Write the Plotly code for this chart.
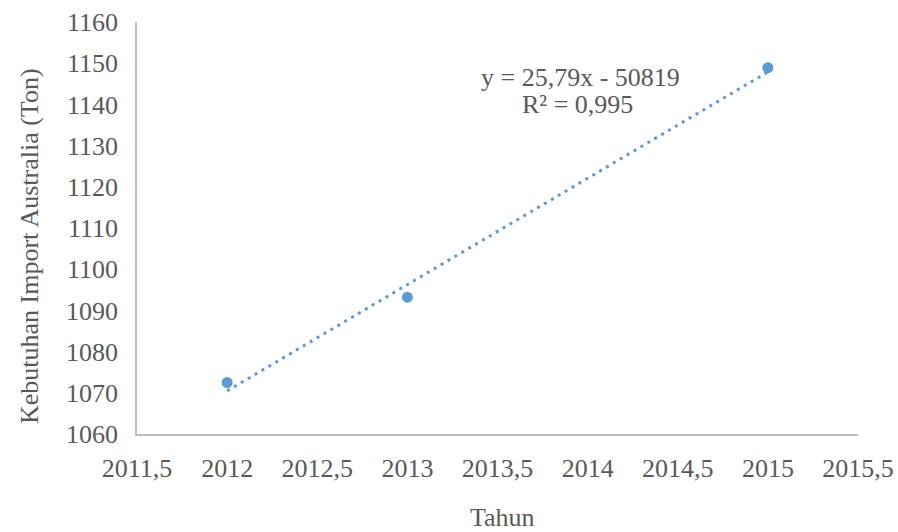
import numpy as np
import plotly.graph_objects as go

years = [2012, 2013, 2015]
imports = [1072.5, 1093.2, 1148.9]

x_tickvals = [2011.5, 2012, 2012.5, 2013, 2013.5, 2014, 2014.5, 2015, 2015.5]
x_ticktext = ["2011,5", "2012", "2012,5", "2013", "2013,5", "2014", "2014,5", "2015", "2015,5"]
y_tickvals = [1060, 1070, 1080, 1090, 1100, 1110, 1120, 1130, 1140, 1150, 1160]
y_ticktext = [str(v) for v in y_tickvals]

eq_text = "y = 25,79x - 50819"
r2_text = "R² = 0,995"
x_title = "Tahun"
y_title = "Kebutuhan Import Australia (Ton)"

slope, intercept = np.polyfit(years, imports, 1)
trend_x = [years[0], years[-1]]
trend_y = [slope * v + intercept for v in trend_x]

blue = "#5B9BD5"
txt = "#595959"
font_family = "Liberation Serif, Times New Roman, serif"

W, H = 898, 532
L, R, T, B = 137, 40, 22, 98
pw, ph = W - L - R, H - T - B


def px_to_paper(x, y):
    return (x - L) / pw, 1 - (y - T) / ph


fig = go.Figure()
fig.add_trace(go.Scatter(x=trend_x, y=trend_y, mode="lines",
                         line=dict(color=blue, width=3, dash="3px,5px"),
                         showlegend=False, hoverinfo="skip"))
fig.add_trace(go.Scatter(x=years, y=imports, mode="markers",
                         marker=dict(color=blue, size=11),
                         showlegend=False))

ann_font = dict(size=26, color=txt, family=font_family)
for text, (px, py) in [(eq_text, (580, 77)), (r2_text, (577, 104))]:
    ax, ay = px_to_paper(px, py)
    fig.add_annotation(xref="paper", yref="paper", x=ax, y=ay, text=text, showarrow=False,
                       font=ann_font, xanchor="center", yanchor="middle")

ax, ay = px_to_paper(502, 517)
fig.add_annotation(xref="paper", yref="paper", x=ax, y=ay, text=x_title, showarrow=False,
                   font=ann_font, xanchor="center", yanchor="middle")
ax, ay = px_to_paper(29, 246)
fig.add_annotation(xref="paper", yref="paper", x=ax, y=ay, text=y_title, showarrow=False,
                   font=ann_font, xanchor="center", yanchor="middle", textangle=-90)

fig.update_layout(
    width=W, height=H,
    margin=dict(l=L, r=R, t=T, b=B, autoexpand=False),
    paper_bgcolor="white", plot_bgcolor="white",
    font=dict(family=font_family, color=txt, size=26),
    xaxis=dict(range=[2011.5, 2015.5], tickvals=x_tickvals, ticktext=x_ticktext,
               showgrid=False, zeroline=False, showline=True, linecolor="#BFBFBF", linewidth=1.5,
               ticks="", ticklabelstandoff=10, automargin=False),
    yaxis=dict(range=[1060, 1160], tickvals=y_tickvals, ticktext=y_ticktext,
               showgrid=False, zeroline=False, showline=True, linecolor="#BFBFBF", linewidth=1.5,
               ticks="", ticklabelstandoff=12, automargin=False),
)

fig.write_html(
    "out.html",
    config={"displayModeBar": False},
    post_script="document.body.style.margin='0';document.body.style.overflow='hidden';",
)
